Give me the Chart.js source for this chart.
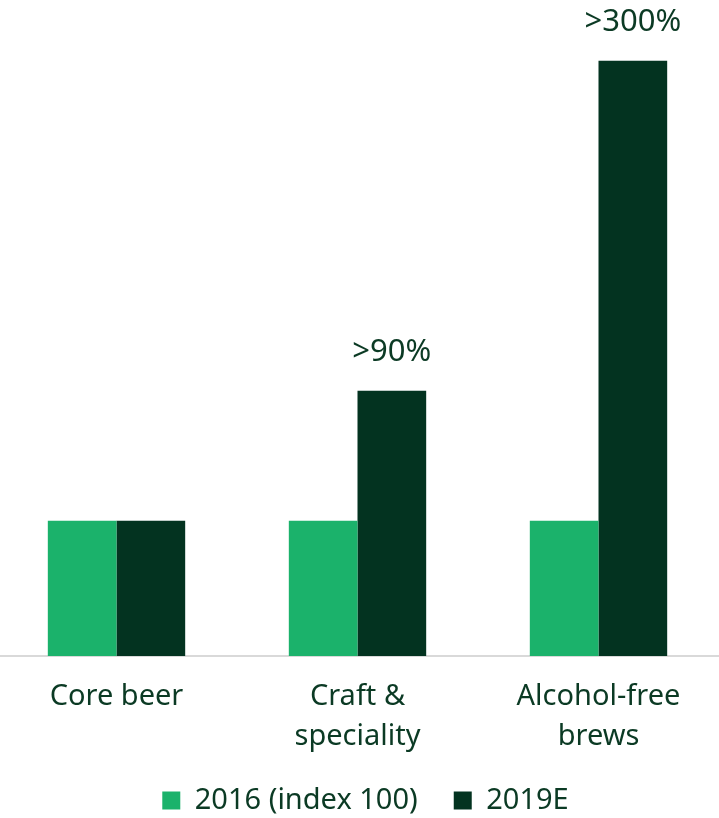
<!DOCTYPE html>
<html>
<head>
<meta charset="utf-8">
<script src="https://cdn.jsdelivr.net/npm/chart.js@4"></script>
<style>
  html, body { margin: 0; padding: 0; background: #fff; overflow: hidden; }
  #wrap { width: 719px; height: 818px; overflow: hidden; }
  #grafico { margin-left: -4px; display: block; }
</style>
</head>
<body>
<div id="wrap"><canvas id="grafico" width="723" height="818"></canvas></div>
<script>
const categorias = ["Core beer", ["Craft &", "speciality"], ["Alcohol-free", "brews"]];
const valores2016 = [100, 100, 100];
const valores2019 = [100, 196, 440];
const rotulos2019 = ["", ">90%", ">300%"];

const corTexto = "#0b3a24";
const fonte = "'Noto Sans', sans-serif";

// desenha os rótulos acima das barras de 2019E
const rotulosPlugin = {
    id: "rotulos",
    afterDatasetsDraw(chart) {
        const ctx = chart.ctx;
        const meta = chart.getDatasetMeta(1);
        ctx.save();
        ctx.font = "31px " + fonte;
        ctx.fillStyle = corTexto;
        ctx.textAlign = "center";
        ctx.textBaseline = "alphabetic";
        meta.data.forEach((bar, i) => {
            if (!rotulos2019[i]) return;
            ctx.fillText(rotulos2019[i], bar.x, bar.y - 30);
        });
        ctx.restore();
    }
};

// legenda: espaço largo entre itens sem empurrar o gráfico pra cima
const ajusteLegenda = {
    id: "ajusteLegenda",
    beforeLayout(chart) {
        const legenda = chart.legend;
        if (!legenda || legenda._ajustada) return;
        const fitOriginal = legenda.fit;
        legenda.fit = function () {
            fitOriginal.call(this);
            this.height = 48;
        };
        legenda._ajustada = true;
    },
    afterLayout(chart) {
        // sobe só o topo, o fundo fica onde está (senão o clip corta o texto)
        chart.legend.top -= 20;
        chart.legend.left += 16;
    }
};

new Chart(document.getElementById("grafico"), {
    type: "bar",
    data: {
        labels: categorias,
        datasets: [
            { label: "2016 (index 100)", data: valores2016, backgroundColor: "#1bb26b" },
            { label: "2019E", data: valores2019, backgroundColor: "#033320" }
        ]
    },
    options: {
        responsive: false,
        animation: false,
        categoryPercentage: 0.57,
        barPercentage: 1.0,
        layout: { padding: 0 },
        scales: {
            y: { display: false, min: 0, max: 485 },
            x: {
                grid: { display: false },
                border: { display: true, color: "#d9d9d9", width: 2 },
                ticks: {
                    color: corTexto,
                    font: { family: fonte, size: 29, lineHeight: 1.38 },
                    padding: 13,
                    maxRotation: 0
                }
            }
        },
        plugins: {
            legend: {
                position: "bottom",
                labels: {
                    color: corTexto,
                    font: { family: fonte, size: 29 },
                    boxWidth: 18,
                    boxHeight: 18,
                    padding: 36
                }
            },
            tooltip: { enabled: false }
        }
    },
    plugins: [rotulosPlugin, ajusteLegenda]
});
</script>
</body>
</html>
